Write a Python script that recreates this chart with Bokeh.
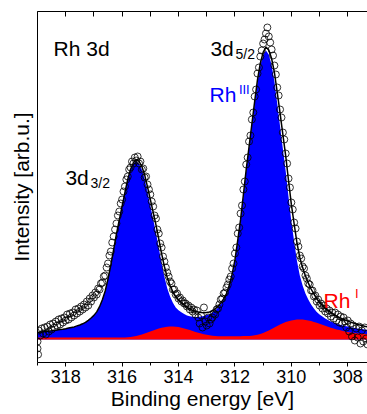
from bokeh.plotting import figure
from bokeh.models import Range1d, FixedTicker, LinearAxis, Label
from bokeh.embed import file_html
from bokeh.resources import INLINE

# ---------------- data ----------------
# binding-energy grid of the fitted curves [eV]
energy = [
    319.0, 318.9, 318.8, 318.7, 318.6, 318.5, 318.4, 318.3, 318.2, 318.1,
    318.0, 317.9, 317.8, 317.7, 317.6, 317.5, 317.4, 317.3, 317.2, 317.1,
    317.0, 316.9, 316.8, 316.7, 316.6, 316.5, 316.4, 316.3, 316.2, 316.1,
    316.0, 315.9, 315.8, 315.7, 315.6, 315.5, 315.4, 315.3, 315.2, 315.1,
    315.0, 314.9, 314.8, 314.7, 314.6, 314.5, 314.4, 314.3, 314.2, 314.1,
    314.0, 313.9, 313.8, 313.7, 313.6, 313.5, 313.4, 313.3, 313.2, 313.1,
    313.0, 312.9, 312.8, 312.7, 312.6, 312.5, 312.4, 312.3, 312.2, 312.1,
    312.0, 311.9, 311.8, 311.7, 311.6, 311.5, 311.4, 311.3, 311.2, 311.1,
    311.0, 310.9, 310.8, 310.7, 310.6, 310.5, 310.4, 310.3, 310.2, 310.1,
    310.0, 309.9, 309.8, 309.7, 309.6, 309.5, 309.4, 309.3, 309.2, 309.1,
    309.0, 308.9, 308.8, 308.7, 308.6, 308.5, 308.4, 308.3, 308.2, 308.1,
    308.0, 307.9, 307.8, 307.7, 307.6, 307.5, 307.4, 307.3,
]
# Rh(III) component incl. background (blue area)
rh3 = [
    7.2, 7.4, 7.7, 8.0, 8.4, 8.7, 9.2, 9.5, 10.0, 10.3,
    10.8, 11.4, 12.0, 12.6, 13.6, 14.5, 15.7, 17.1, 19.2, 21.5,
    24.1, 27.6, 32.8, 39.8, 48.5, 60.6, 74.5, 90.1, 105.7, 119.5,
    133.4, 147.2, 160.2, 169.7, 175.7, 178.3, 175.8, 169.9, 160.5, 147.7,
    134.1, 120.4, 106.7, 91.5, 76.2, 62.7, 51.3, 43.0, 36.7, 32.1,
    29.2, 27.2, 25.6, 24.0, 23.3, 22.7, 22.6, 22.6, 22.9, 23.4,
    24.4, 25.3, 27.0, 28.9, 32.0, 35.4, 39.4, 44.7, 53.0, 64.2,
    78.4, 98.0, 118.5, 143.6, 168.8, 191.2, 213.6, 236.0, 257.5, 274.0,
    284.5, 289.0, 285.0, 274.5, 258.0, 236.0, 213.3, 190.6, 168.2, 142.7,
    118.1, 98.0, 78.5, 64.0, 54.0, 46.0, 40.0, 35.0, 31.0, 27.5,
    25.0, 23.0, 21.0, 19.5, 18.0, 17.0, 16.0, 15.0, 14.3, 13.6,
    13.0, 12.4, 11.8, 11.3, 10.8, 10.4, 10.0, 9.6,
]
# Rh(I) component (red area)
rh1 = [
    2.0, 2.0, 2.0, 2.0, 2.0, 2.0, 2.0, 2.0, 2.0, 2.0,
    2.0, 2.0, 2.0, 2.0, 2.0, 2.0, 2.0, 2.0, 2.0, 2.0,
    2.0, 2.0, 2.0, 2.0, 2.0, 2.0, 2.0, 2.0, 2.0, 2.0,
    2.0, 2.0, 2.2, 2.5, 3.0, 3.6, 4.3, 5.1, 6.0, 7.0,
    8.0, 9.0, 10.0, 10.9, 11.7, 12.3, 12.7, 13.0, 13.0, 12.8,
    12.4, 11.8, 11.1, 10.3, 9.4, 8.5, 7.6, 6.8, 6.0, 5.3,
    4.7, 4.2, 3.8, 3.5, 3.3, 3.2, 3.2, 3.2, 3.2, 3.2,
    3.2, 3.3, 3.3, 3.4, 3.4, 3.5, 3.8, 4.2, 4.8, 5.6,
    6.6, 7.8, 9.1, 10.5, 12.0, 13.5, 15.0, 16.3, 17.4, 18.3,
    19.0, 19.5, 19.9, 20.0, 19.9, 19.6, 19.1, 18.4, 17.6, 16.7,
    15.7, 14.7, 13.7, 12.7, 11.8, 10.9, 10.1, 9.4, 8.7, 8.1,
    7.6, 7.1, 6.7, 6.3, 6.0, 5.7, 5.4, 5.2,
]
# fit envelope (black line)
envelope = [
    7.2, 7.4, 7.7, 8.0, 8.4, 8.7, 9.2, 9.5, 10.0, 10.3,
    10.8, 11.4, 12.0, 12.6, 13.6, 14.5, 15.7, 17.1, 19.2, 21.5,
    24.1, 27.6, 32.8, 39.8, 48.5, 60.6, 74.5, 90.1, 105.7, 119.5,
    133.4, 147.2, 160.4, 170.2, 176.7, 179.9, 178.1, 173.0, 164.5, 152.7,
    140.1, 127.4, 114.7, 100.4, 85.9, 73.0, 62.0, 54.0, 47.7, 42.9,
    39.6, 37.0, 34.7, 32.3, 30.7, 29.2, 28.2, 27.4, 26.9, 26.7,
    27.1, 27.5, 28.8, 30.4, 33.3, 36.6, 40.6, 45.9, 54.2, 65.4,
    79.6, 99.3, 119.8, 145.0, 170.2, 192.7, 215.4, 238.2, 259.8, 276.3,
    287.1, 292.4, 289.5, 281.0, 267.0, 247.2, 226.3, 204.9, 183.6, 159.0,
    135.1, 115.5, 96.4, 82.0, 71.9, 63.6, 56.6, 50.5, 45.5, 40.8,
    37.2, 34.2, 31.4, 29.0, 26.9, 25.3, 23.7, 22.2, 20.8, 19.6,
    18.5, 17.4, 16.4, 15.5, 14.7, 14.0, 13.3, 12.7,
]
# measured points (open circles)
data_energy = [
    319.00, 319.00, 318.98,
    318.95, 318.90, 318.85, 318.80, 318.75, 318.70, 318.65, 318.60, 318.55, 318.50,
    318.45, 318.40, 318.35, 318.30, 318.25, 318.20, 318.15, 318.10, 318.05, 318.00,
    317.95, 317.90, 317.85, 317.80, 317.75, 317.70, 317.65, 317.60, 317.55, 317.50,
    317.45, 317.40, 317.35, 317.30, 317.25, 317.20, 317.15, 317.10, 317.05, 317.00,
    316.95, 316.90, 316.85, 316.80, 316.75, 316.70, 316.65, 316.60, 316.55, 316.50,
    316.45, 316.40, 316.35, 316.30, 316.25, 316.20, 316.15, 316.10, 316.05, 316.00,
    315.95, 315.90, 315.85, 315.80, 315.75, 315.70, 315.65, 315.60, 315.55, 315.50,
    315.45, 315.40, 315.35, 315.30, 315.25, 315.20, 315.15, 315.10, 315.05, 315.00,
    314.95, 314.90, 314.85, 314.80, 314.75, 314.70, 314.65, 314.60, 314.55, 314.50,
    314.45, 314.40, 314.35, 314.30, 314.25, 314.20, 314.15, 314.10, 314.05, 314.00,
    313.95, 313.90, 313.85, 313.80, 313.75, 313.70, 313.65, 313.60, 313.55, 313.50,
    313.45, 313.40, 313.35, 313.30, 313.25, 313.20, 313.15, 313.10, 313.05, 313.00,
    312.95, 312.90, 312.85, 312.80, 312.75, 312.70, 312.65, 312.60, 312.55, 312.50,
    312.45, 312.40, 312.35, 312.30, 312.25, 312.20, 312.15, 312.10, 312.05, 312.00,
    311.95, 311.90, 311.85, 311.80, 311.75, 311.70, 311.65, 311.60, 311.55, 311.50,
    311.45, 311.40, 311.35, 311.30, 311.25, 311.20, 311.15, 311.10, 311.05, 311.00,
    310.95, 310.90, 310.85, 310.80, 310.75, 310.70, 310.65, 310.60, 310.55, 310.50,
    310.45, 310.40, 310.35, 310.30, 310.25, 310.20, 310.15, 310.10, 310.05, 310.00,
    309.95, 309.90, 309.85, 309.80, 309.75, 309.70, 309.65, 309.60, 309.55, 309.50,
    309.45, 309.40, 309.35, 309.30, 309.25, 309.20, 309.15, 309.10, 309.05, 309.00,
    308.95, 308.90, 308.85, 308.80, 308.75, 308.70, 308.65, 308.60, 308.55, 308.50,
    308.45, 308.40, 308.35, 308.30, 308.25, 308.20, 308.15, 308.10, 308.05, 308.00,
    307.95, 307.90, 307.85, 307.80, 307.75, 307.70, 307.65, 307.60, 307.55, 307.50,
    307.45, 307.40, 307.35, 307.30,
]
data_counts = [
    -2, -9, -15,
    9, 4, 11, 6, 12, 5, 13, 8, 15, 10,
    16, 12, 18, 14, 20, 15, 21, 17, 22, 19,
    25, 20, 26, 22, 27, 24, 30, 26, 31, 28,
    33, 30, 35, 32, 38, 34, 41, 38, 44, 42,
    47, 45, 51, 50, 56, 57, 63, 64, 72, 76,
    84, 88, 97, 103, 110, 116, 124, 128, 136, 140,
    148, 153, 160, 163, 170, 172, 178, 176, 182, 179,
    183, 176, 178, 170, 171, 162, 163, 155, 150, 145,
    138, 133, 124, 121, 110, 106, 96, 92, 83, 78,
    72, 67, 63, 58, 56, 50, 50, 45, 46, 41,
    42, 38, 39, 36, 36, 33, 34, 30, 32, 28,
    30, 25, 29, 22, 16, 24, 12, 32, 18, 14,
    22, 16, 20, 22, 26, 25, 30, 31, 35, 40,
    41, 46, 47, 52, 55, 60, 63, 71, 76, 86,
    92, 106, 112, 126, 134, 150, 158, 175, 182, 198,
    204, 220, 227, 243, 250, 266, 272, 283, 289, 296,
    300, 306, 312, 303, 297, 290, 284, 274, 265, 252,
    244, 230, 222, 207, 200, 186, 176, 161, 152, 137,
    130, 117, 111, 98, 93, 84, 81, 73, 71, 64,
    61, 56, 55, 49, 49, 43, 44, 38, 40, 34,
    36, 31, 34, 28, 31, 26, 29, 23, 27, 21,
    27, 19, 25, 17, 23, 16, 22, 18, 12, 19,
    8, 16, 3, 14, -1, 11, 2, 13, -4, 9,
    -2, 12, 1, -5,
]
tick_values = [318, 316, 314, 312, 310, 308]
minor_tick_values = [319, 317, 315, 313, 311, 309, 307]
top_tick_values = [319, 318, 317, 316, 315, 314, 313, 312, 311, 310, 309, 308, 307]

FONT = "Liberation Sans"
BLUE = "#0000FF"
RED = "#FF0000"

p = figure(width=367, height=414, output_backend="svg", toolbar_location=None,
           x_range=Range1d(319.0, 307.3), y_range=Range1d(-23, 328),
           min_border_left=37, min_border_right=0, min_border_top=11,
           min_border_bottom=52)
p.outline_line_color = None
p.grid.visible = False

# bottom axis
xa = p.xaxis[0]
xa.ticker = FixedTicker(ticks=tick_values, minor_ticks=minor_tick_values)
xa.major_tick_in = 0
xa.major_tick_out = 4
xa.minor_tick_in = 0
xa.minor_tick_out = 3
xa.axis_line_color = "black"
xa.major_tick_line_color = "black"
xa.minor_tick_line_color = "black"
xa.major_label_text_font = FONT
xa.major_label_text_font_size = "18px"
xa.major_label_text_color = "black"
xa.major_label_standoff = 3
xa.axis_label = "Binding energy [eV]"
xa.axis_label_text_font = FONT
xa.axis_label_text_font_size = "21px"
xa.axis_label_text_font_style = "normal"
xa.axis_label_text_color = "black"
xa.axis_label_standoff = 1

# left axis: no ticks
ya = p.yaxis[0]
ya.ticker = FixedTicker(ticks=[])
ya.major_tick_in = 0
ya.major_tick_out = 0
ya.minor_tick_in = 0
ya.minor_tick_out = 0
ya.major_label_text_color = None
ya.major_label_text_font_size = "1px"
ya.axis_line_color = "black"
ya.axis_label = "Intensity [arb.u.]"
ya.axis_label_text_font = FONT
ya.axis_label_text_font_size = "21px"
ya.axis_label_text_font_style = "normal"
ya.axis_label_text_color = "black"
ya.axis_label_standoff = 5

# top axis: inward ticks, no labels
top = LinearAxis(ticker=FixedTicker(ticks=top_tick_values, minor_ticks=[]))
top.major_tick_in = 5
top.major_tick_out = 0
top.minor_tick_in = 0
top.minor_tick_out = 0
top.major_label_text_color = None
top.major_label_text_font_size = "1px"
top.major_label_standoff = 0
top.axis_line_color = "black"
p.add_layout(top, "above")

# components
p.varea(x=energy, y1=0, y2=rh3, fill_color=BLUE)
p.varea(x=energy, y1=0, y2=rh1, fill_color=RED)
p.line(energy, envelope, line_color="black", line_width=1.5)
p.scatter(data_energy, data_counts, marker="circle", size=7, fill_color=None,
          line_color="black", line_width=0.8)

def lab(x, y, text, size, color="black"):
    p.add_layout(Label(x=x, y=y, text=text, text_font=FONT, text_font_size=size,
                       text_color=color, text_align="left",
                       text_baseline="alphabetic"))

lab(318.43, 291, "Rh 3d", "21px")
lab(312.87, 291, "3d", "21px")
lab(311.98, 286, "5/2", "14px")
lab(318.01, 162, "3d", "21px")
lab(317.12, 157, "3/2", "14px")
lab(312.90, 245, "Rh", "21px", BLUE)
lab(311.86, 250, "III", "13px", BLUE)
lab(308.86, 39, "Rh", "21px", RED)
lab(307.74, 46, "I", "13px", RED)

open("out.html", "w").write(file_html(p, INLINE))
